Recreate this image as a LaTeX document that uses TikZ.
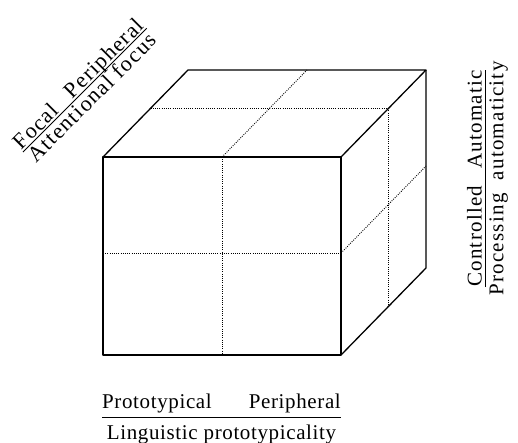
\documentclass[tikz,border=0pt]{standalone}
\usepackage{fontspec}
\setmainfont{Liberation Serif}
\usetikzlibrary{calc}
\tikzset{
  edge/.style={line width=1.3pt, line join=round},
  grid/.style={dash pattern=on 0.9pt off 1.3pt, line width=0.9pt},
  pole/.style={font=\fontsize{21}{24}\selectfont, inner sep=0pt},
}

\begin{document}
\begin{tikzpicture}[x=1pt,y=-1pt]
  \useasboundingbox (0,0) rectangle (518,442);
  % #1 name, #2 length, #3 gap above, #4 baseline below, #5/#6 poles, #7 dimension
  \def\axis#1#2#3#4#5#6#7{%
    \coordinate (#1-l) at (0,0);
    \coordinate (#1-r) at (#2,0);
    \draw[line width=0.9pt] (#1-l) -- (#1-r);
    \node[pole, anchor=base west] (#1-lo) at (0,-#3) {#5};
    \node[pole, anchor=base east] (#1-hi) at (#2,-#3) {#6};
    \node[pole, anchor=base] (#1-dim) at (#2/2,#4) {#7};
  }

  % the cube
  \coordinate (fTL) at (103,157);
  \coordinate (fTR) at (341,157);
  \coordinate (fBR) at (341,355);
  \coordinate (fBL) at (103,355);
  \coordinate (bTL) at (188,70);
  \coordinate (bTR) at (426,70);
  \coordinate (bBR) at (426,268);

  \draw[grid] ($(fTL)!0.5!(fTR)$) -- ($(fBL)!0.5!(fBR)$);
  \draw[grid] ($(fTL)!0.485!(fBL)$) -- ($(fTR)!0.485!(fBR)$);
  \draw[grid] ($(fTL)!0.5!(fTR)$) -- ($(bTL)!0.5!(bTR)$);
  \draw[grid] ($(fTL)!0.56!(bTL)$) -- ($(fTR)!0.56!(bTR)$);
  \draw[grid] ($(fTR)!0.56!(bTR)$) -- ($(fBR)!0.56!(bBR)$);
  \draw[grid] ($(fTR)!0.485!(fBR)$) -- ($(bTR)!0.485!(bBR)$);

  \draw[edge] (fTL) rectangle (fBR);
  \draw[edge] (fTL) -- (bTL) -- (bTR) -- (fTR);
  \draw[edge] (bTR) -- (bBR) -- (fBR);

  % the three axes
  \begin{scope}[shift={(102,417)}]
    \tikzset{pole/.append style={font=\fontsize{21}{24}\selectfont\addfontfeature{LetterSpace=3}}}
    \axis{ling}{239}{9}{22.5}{Prototypical}{Peripheral}{Linguistic prototypicality}
  \end{scope}
  \begin{scope}[shift={(485,287)}, rotate=90, transform shape]
    \tikzset{pole/.append style={font=\fontsize{21}{24}\selectfont\addfontfeature{LetterSpace=6}}}
    \axis{proc}{217}{3.3}{18.3}{Controlled}{Automatic}{Processing\ \ automaticity}
  \end{scope}
  \begin{scope}[shift={(23,152)}, rotate=45, transform shape]
    \tikzset{pole/.append style={font=\fontsize{22}{25}\selectfont\addfontfeature{LetterSpace=6}}}
    \axis{attn}{175}{2}{17.5}{Focal}{Peripheral}{Attentional focus}
  \end{scope}
\end{tikzpicture}
\end{document}
